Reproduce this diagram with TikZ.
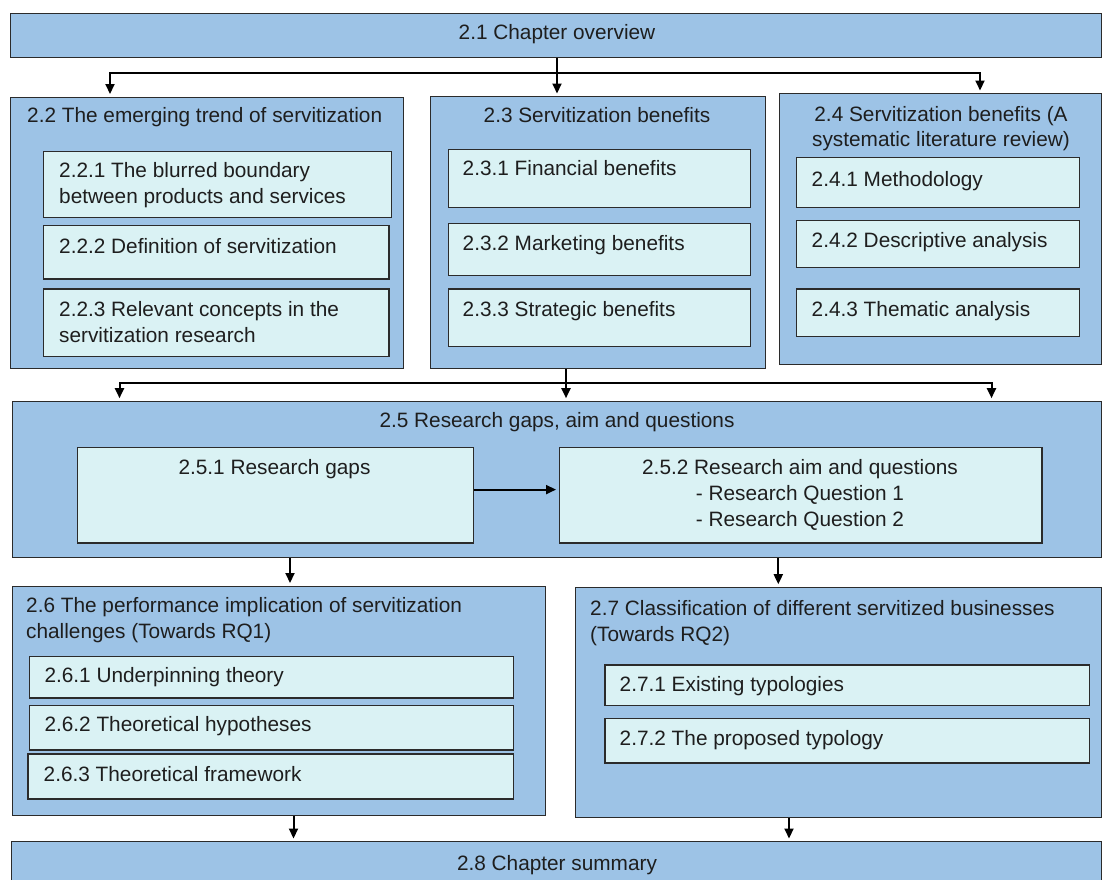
\documentclass[tikz,border=0pt]{standalone}
\usepackage{fontspec}
\setmainfont{Liberation Sans}
\usetikzlibrary{arrows.meta}

\definecolor{outerfill}{HTML}{9DC3E6}
\definecolor{innerfill}{HTML}{DAF2F4}
\definecolor{edge}{HTML}{2B2B2B}
\definecolor{ink}{HTML}{1E1E1E}

% \frameat{style}{name}{x1}{y1}{x2}{y2}: empty box from top-left to bottom-right
\newcommand{\frameat}[6]{%
  \node[#1, anchor=north west, minimum width={#5-#3}, minimum height={#6-#4}] (#2) at (#3,#4) {};}

\tikzset{
  section/.style={draw=edge, line width=1.2pt, fill=outerfill, inner sep=0pt},
  subsection/.style={draw=edge, line width=1.2pt, fill=innerfill, inner sep=0pt},
  lbl/.style={inner sep=0pt, text=ink, align=left},
  clbl/.style={inner sep=0pt, text=ink, align=center},
  conn/.style={line width=2pt, draw=black, shorten >=2.5pt,
    -{Triangle[length=10pt,width=9pt]}},
}

\begin{document}
\begin{tikzpicture}[x=1pt, y=-1pt, font=\fontsize{20.8}{26}\selectfont]
\useasboundingbox (0,0) rectangle (1102,879);
\clip (0,0) rectangle (1102,879);

% ---- sections ----
\frameat{section}{n21}{10}{13}{1101}{57}
\frameat{section}{n22}{10}{96.5}{402.5}{367.5}
\frameat{section}{n23}{429.5}{96}{765}{368}
\frameat{section}{n24}{778.5}{93}{1101}{364}
\frameat{section}{n25}{11.5}{400.7}{1101}{556.7}
\frameat{section}{n26}{11.5}{585.5}{544.6}{815}
\frameat{section}{n27}{574.5}{586.7}{1101}{816.7}
\frameat{section}{n28}{11.2}{841}{1101}{900}

% ---- subsections ----
\frameat{subsection}{n221}{42.7}{150.7}{390.7}{216.5}
\frameat{subsection}{n222}{42.7}{225}{388.3}{278.3}
\frameat{subsection}{n223}{42.7}{288.3}{388.3}{356}
\frameat{subsection}{n231}{448}{148.7}{750}{206.7}
\frameat{subsection}{n232}{448}{222.7}{750}{275}
\frameat{subsection}{n233}{448}{288.3}{750}{346}
\frameat{subsection}{n241}{796}{157}{1078.6}{206.7}
\frameat{subsection}{n242}{796}{219.5}{1078.6}{267}
\frameat{subsection}{n243}{796}{288.3}{1078.6}{336}
\frameat{subsection}{n251}{76.5}{446.7}{472.6}{542.3}
\frameat{subsection}{n252}{558.5}{446.7}{1041.3}{542.3}
\frameat{subsection}{n261}{29}{656}{512.7}{697.3}
\frameat{subsection}{n262}{29}{705}{512.7}{749.3}
\frameat{subsection}{n263}{27.3}{753.3}{512.7}{798.3}
\frameat{subsection}{n271}{604.3}{664.3}{1089}{705}
\frameat{subsection}{n272}{604.3}{717.7}{1089}{762.3}

% ---- labels (multi-line labels are placed by the baseline of their last line) ----
\node[clbl, anchor=base] (t21) at (557,39.5) {2.1 Chapter overview};
\node[lbl, anchor=base west] (t22) at (27,122.7) {2.2 The emerging trend of servitization};
\node[clbl, anchor=base] (t23) at (597,122.7) {2.3 Servitization benefits};
\node[clbl, anchor=base, font=\fontsize{20.8}{24.5}\selectfont] (t24) at (941,146.2)
  {2.4 Servitization benefits (A\\systematic literature review)};
\node[lbl, anchor=base west] (t221) at (59,203) {2.2.1 The blurred boundary\\between products and services};
\node[lbl, anchor=base west] (t222) at (59,253.5) {2.2.2 Definition of servitization};
\node[lbl, anchor=base west] (t223) at (59,342) {2.2.3 Relevant concepts in the\\servitization research};
\node[lbl, anchor=base west] (t231) at (462.5,175.8) {2.3.1 Financial benefits};
\node[lbl, anchor=base west] (t232) at (462.5,250.5) {2.3.2 Marketing benefits};
\node[lbl, anchor=base west] (t233) at (462.5,316.5) {2.3.3 Strategic benefits};
\node[lbl, anchor=base west] (t241) at (811.5,186.5) {2.4.1 Methodology};
\node[lbl, anchor=base west] (t242) at (811.5,247.5) {2.4.2 Descriptive analysis};
\node[lbl, anchor=base west] (t243) at (811.5,316.5) {2.4.3 Thematic analysis};
\node[clbl, anchor=base] (t25) at (557,427.5) {2.5 Research gaps, aim and questions};
\node[clbl, anchor=base] (t251) at (274.5,474) {2.5.1 Research gaps};
\node[clbl, anchor=base] (t252) at (800,526)
  {2.5.2 Research aim and questions\\- Research Question 1\\- Research Question 2};
\node[lbl, anchor=base west] (t26) at (26,638.7)
  {2.6 The performance implication of servitization\\challenges (Towards RQ1)};
\node[lbl, anchor=base west] (t261) at (44.3,682.7) {2.6.1 Underpinning theory};
\node[lbl, anchor=base west] (t262) at (44.3,731.7) {2.6.2 Theoretical hypotheses};
\node[lbl, anchor=base west] (t263) at (43.5,781.7) {2.6.3 Theoretical framework};
\node[lbl, anchor=base west] (t27) at (590,641)
  {2.7 Classification of different servitized businesses\\(Towards RQ2)};
\node[lbl, anchor=base west] (t271) at (619.5,691) {2.7.1 Existing typologies};
\node[lbl, anchor=base west] (t272) at (619.5,745.7) {2.7.2 The proposed typology};
\node[clbl, anchor=base] (t28) at (557,870.5) {2.8 Chapter summary};

% ---- connectors ----
% overview fans out to 2.2 - 2.4
\coordinate (b1) at (557,72.7);
\coordinate (b1L) at (110,72.7);
\coordinate (b1R) at (980,72.7);
\draw[conn] (n21.south -| b1) -- (n23.north -| b1);
\draw[conn] (b1) -- (b1L) -- (b1L |- n22.north);
\draw[conn] (b1) -- (b1R) -- (b1R |- n24.north);

% benefits sections join into 2.5
\coordinate (b2) at (566,382.7);
\coordinate (b2L) at (119.5,382.7);
\coordinate (b2R) at (991.5,382.7);
\draw[conn] (n23.south -| b2) -- (n25.north -| b2);
\draw[conn] (b2) -- (b2L) -- (b2L |- n25.north);
\draw[conn] (b2) -- (b2R) -- (b2R |- n25.north);

% gaps lead to aim and questions
\draw[conn] ([yshift=5.5pt]n251.east) -- ([yshift=5.5pt]n252.west);

% 2.5 splits into 2.6 and 2.7
\coordinate (d1) at (290,0);
\coordinate (d2) at (778.3,0);
\draw[conn] (n25.south -| d1) -- (n26.north -| d1);
\draw[conn] (n25.south -| d2) -- (n27.north -| d2);

% both lead to the summary
\coordinate (d3) at (293.5,0);
\coordinate (d4) at (789,0);
\draw[conn] (n26.south -| d3) -- (n28.north -| d3);
\draw[conn] (n27.south -| d4) -- (n28.north -| d4);
\end{tikzpicture}
\end{document}
